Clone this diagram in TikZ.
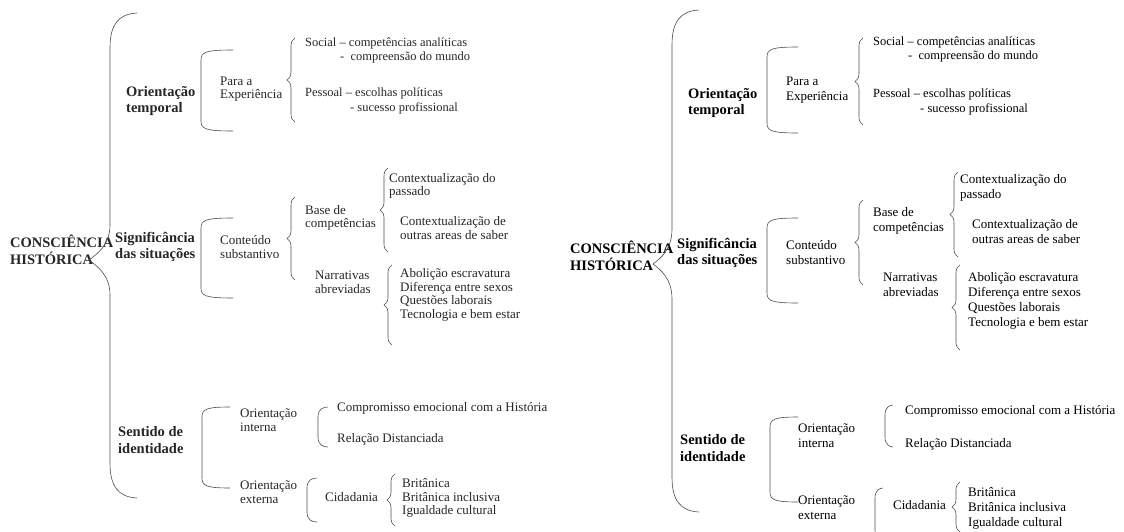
\documentclass[tikz,border=0pt]{standalone}
\usepackage{fontspec}
\setmainfont{Liberation Serif}
\usepackage{tikz}
\usetikzlibrary{decorations.pathreplacing}

% square bracket: x, top, bottom, end x
\newcommand{\sqbr}[4]{\draw[brk] (#4,#2) .. controls ({#1+5},{#2}) and (#1,{#2+2}) .. (#1,{#2+10}) -- (#1,{#3-10}) .. controls (#1,{#3-2}) and ({#1+5},#3) .. (#4,#3);}
% curly brace: x, top, bottom
\newcommand{\cbr}[3]{\draw[brk, decorate, decoration={brace, amplitude=8pt}] (#1,#3) -- (#1,#2);}
% big brace: x, top, cusp x, cusp y, bottom, end x
\newcommand{\bigbr}[6]{\draw[brk] (#6,#2) .. controls ({#1+8},{#2+1}) and (#1,{#2+12}) .. (#1,{#2+35}) -- (#1,{#4-35}) .. controls (#1,{#4-15}) and ({#3+8},{#4-6}) .. (#3,#4) .. controls ({#3+8},{#4+6}) and (#1,{#4+15}) .. (#1,{#4+35}) -- (#1,{#5-35}) .. controls (#1,{#5-12}) and ({#1+8},{#5-1}) .. (#6,#5);}

\begin{document}
\begin{tikzpicture}[
  x=1pt, y=-1pt,
  head/.style={
    font=\bfseries\fontsize{14.5}{16.5}\selectfont,
    align=left,
    anchor=west,
    inner sep=0pt
  },
  lbl/.style={
    font=\fontsize{13}{15}\selectfont,
    align=left,
    anchor=west,
    inner sep=0pt
  },
  sml/.style={
    font=\fontsize{12.5}{14}\selectfont,
    align=left,
    anchor=west,
    inner sep=0pt
  },
  brk/.style={draw=black!70, line width=0.6pt}
]
\clip (0,0) rectangle (1124,531);

% left copy (scanned)
\begin{scope}[text=black!85,
  lbl/.append style={font=\fontsize{13}{13.7}\selectfont}]
\node[head] (lcons) at (10,250) {CONSCIÊNCIA\\HISTÓRICA};
\node[head] (ltemp) at (126,101) {Orientação\\temporal};
\node[head] (lsig) at (115,247) {Significância\\das situações};
\node[head] (lsent) at (118,440) {Sentido de\\identidade};
\node[lbl] (lexp) at (220,89) {Para a\\Experiência};
\node[sml] (lsoc) at (305,43) {Social -- competências analíticas};
\node[sml] (lsoc2) at (340,57) {-\ \ compreensão do mundo};
\node[sml] (lpes) at (305,93) {Pessoal -- escolhas políticas};
\node[sml] (lpes2) at (350,108) {- sucesso profissional};
\node[lbl] (lcont) at (220,247) {Conteúdo\\substantivo};
\node[lbl] (lbase) at (305,218) {Base de\\competências};
\node[lbl] (lctx1) at (389,186) {Contextualização do\\passado};
\node[lbl] (lctx2) at (400,228) {Contextualização de\\outras areas de saber};
\node[lbl] (lnarr) at (315,282) {Narrativas\\abreviadas};
\node[lbl] (labol) at (400,295) {Abolição escravatura\\Diferença entre sexos\\Questões laborais\\Tecnologia e bem estar};
\node[lbl] (lint) at (240,420) {Orientação\\interna};
\node[lbl] (lext) at (240,492) {Orientação\\externa};
\node[lbl] (lcomp) at (337,408) {Compromisso emocional com a História};
\node[lbl] (lrel) at (337,439) {Relação Distanciada};
\node[lbl] (lcid) at (325,497) {Cidadania};
\node[lbl] (lbrit) at (402,498) {Britânica\\Britânica inclusiva\\Igualdade cultural};
\end{scope}
\bigbr{110}{13}{89}{260}{498}{137}
\sqbr{201}{50}{131}{233}
\sqbr{201}{218}{298}{233}
\sqbr{202}{407}{488}{230}
\sqbr{318}{407}{447}{328}
\sqbr{307}{478}{522}{317}
\cbr{295}{38}{122}
\cbr{295}{197}{280}
\cbr{388}{168}{252}
\cbr{392}{265}{345}
\cbr{395}{474}{526}

% right copy
\node[head] (rcons) at (570,256) {CONSCIÊNCIA\\HISTÓRICA};
\node[head] (rtemp) at (688,103) {Orientação\\temporal};
\node[head] (rsig) at (677,253) {Significância\\das situações};
\node[head] (rsent) at (680,448) {Sentido de\\identidade};
\node[lbl] (rexp) at (786,90) {Para a\\Experiência};
\node[sml] (rsoc) at (873,42) {Social -- competências analíticas};
\node[sml] (rsoc2) at (908,56) {-\ \ compreensão do mundo};
\node[sml] (rpes) at (873,94) {Pessoal -- escolhas políticas};
\node[sml] (rpes2) at (920,109) {- sucesso profissional};
\node[lbl] (rcont) at (786,253) {Conteúdo\\substantivo};
\node[lbl] (rbase) at (873,221) {Base de\\competências};
\node[lbl] (rctx1) at (960,188) {Contextualização do\\passado};
\node[lbl] (rctx2) at (972,232) {Contextualização de\\outras areas de saber};
\node[lbl] (rnarr) at (883,285) {Narrativas\\abreviadas};
\node[lbl] (rabol) at (968,301) {Abolição escravatura\\Diferença entre sexos\\Questões laborais\\Tecnologia e bem estar};
\node[lbl] (rint) at (798,436) {Orientação\\interna};
\node[lbl] (rext) at (798,508) {Orientação\\externa};
\node[lbl] (rcomp) at (905,411) {Compromisso emocional com a História};
\node[lbl] (rrel) at (905,444) {Relação Distanciada};
\node[lbl] (rcid) at (893,505) {Cidadania};
\node[lbl] (rbrit) at (968,508) {Britânica\\Britânica inclusiva\\Igualdade cultural};
\bigbr{672}{10}{653}{264}{512}{699}
\sqbr{767}{47}{133}{798}
\sqbr{767}{218}{303}{798}
\sqbr{770}{417}{502}{798}
\sqbr{885}{405}{447}{893}
\sqbr{875}{488}{540}{883}
\cbr{863}{38}{125}
\cbr{863}{200}{285}
\cbr{958}{172}{257}
\cbr{960}{265}{350}
\cbr{960}{482}{532}
\end{tikzpicture}
\end{document}
